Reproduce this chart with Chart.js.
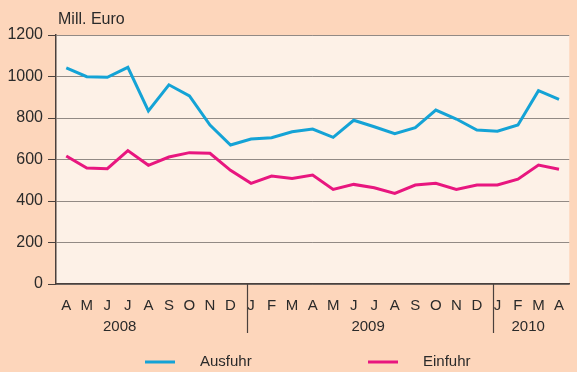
<!DOCTYPE html>
<html>
<head>
<meta charset="utf-8">
<script src="https://cdn.jsdelivr.net/npm/chart.js@4"></script>
<style>
  html, body { margin: 0; padding: 0; background: #fdd6bb; }
  canvas { display: block; }
</style>
</head>
<body>
<canvas id="c" width="577" height="372"></canvas>
<script>
'use strict';

/* ---- data ---------------------------------------------------------------- */
const months   = ['A','M','J','J','A','S','O','N','D',
                  'J','F','M','A','M','J','J','A','S','O','N','D',
                  'J','F','M','A'];
const ausfuhr  = [1042, 999, 996, 1044, 834, 960, 906, 766, 670,
                  699, 705, 734, 747, 707, 789, 758, 724, 753, 838, 795, 742,
                  736, 766, 932, 890];
const einfuhr  = [617, 559, 556, 643, 572, 612, 633, 630, 548,
                  485, 520, 509, 525, 456, 480, 464, 437, 477, 485, 456, 477,
                  477, 505, 573, 553];
const years    = ['2008', '2009', '2010'];
const yTicks   = [0, 200, 400, 600, 800, 1000, 1200];

/* ---- look ---------------------------------------------------------------- */
const BG     = '#fdd6bb';
const PLOT   = '#fdf1e7';
const INK    = '#2a2a2a';
const AXIS   = '#4a403c';
const GRID   = '#928a85';
const C_AUS  = '#14a3d6';
const C_EIN  = '#e8167f';
const FONT   = 'Arial, "Liberation Sans", Helvetica, sans-serif';

// where the year blocks sit on the category axis (index units)
const yearAt    = [2.6, 14.7, 22.5];
const yearSplit = [8.78, 20.8];

const chrome = {
  id: 'chrome',
  beforeDraw(chart) {
    const { ctx, chartArea: a } = chart;
    ctx.save();
    ctx.fillStyle = BG;
    ctx.fillRect(0, 0, chart.width, chart.height);
    ctx.fillStyle = PLOT;
    ctx.fillRect(a.left, a.top, a.right - a.left, a.bottom - a.top);
    ctx.restore();
  },
  afterDraw(chart) {
    const { ctx, chartArea: a } = chart;
    const x = chart.scales.x;
    ctx.save();
    // unit label
    ctx.fillStyle = INK;
    ctx.font = '16px ' + FONT;
    ctx.textBaseline = 'middle';
    ctx.textAlign = 'left';
    ctx.fillText('Mill. Euro', 58, 20);

    // year separators
    ctx.strokeStyle = AXIS;
    ctx.lineWidth = 1.2;
    for (const s of yearSplit) {
      const px = Math.round(x.getPixelForValue(s)) + 0.5;
      ctx.beginPath();
      ctx.moveTo(px, a.bottom);
      ctx.lineTo(px, 333);
      ctx.stroke();
    }
    // year labels
    ctx.font = '15px ' + FONT;
    ctx.textAlign = 'center';
    years.forEach((y, i) => ctx.fillText(y, x.getPixelForValue(yearAt[i]), 327));

    // legend
    const items = chart.data.datasets;
    const lx = [145, 368];
    items.forEach((ds, i) => {
      ctx.strokeStyle = ds.borderColor;
      ctx.lineWidth = 3;
      ctx.beginPath();
      ctx.moveTo(lx[i], 362);
      ctx.lineTo(lx[i] + 30, 362);
      ctx.stroke();
      ctx.fillStyle = INK;
      ctx.textAlign = 'left';
      ctx.fillText(ds.label, lx[i] + 55, 362);
    });
    ctx.restore();
  }
};

new Chart(document.getElementById('c'), {
  type: 'line',
  data: {
    labels: months,
    datasets: [
      { label: 'Ausfuhr', data: ausfuhr, borderColor: C_AUS, borderWidth: 3,
        pointRadius: 0, tension: 0, fill: false },
      { label: 'Einfuhr', data: einfuhr, borderColor: C_EIN, borderWidth: 3,
        pointRadius: 0, tension: 0, fill: false },
    ]
  },
  options: {
    responsive: false,
    animation: false,
    layout: { padding: { top: 35, left: 0, right: 0, bottom: 0 } },
    plugins: { legend: { display: false }, tooltip: { enabled: false } },
    scales: {
      x: {
        type: 'category',
        offset: true,
        grid: { display: false, drawTicks: false },
        border: { display: true, color: AXIS, width: 1.5 },
        ticks: { color: INK, font: { family: FONT, size: 15 }, padding: 13,
                 autoSkip: false, maxRotation: 0 },
        afterFit(s) { s.height = 88; }
      },
      y: {
        min: 0, max: 1200,
        afterBuildTicks(s) { s.ticks = yTicks.map(v => ({ value: v })); },
        grid: { color: GRID, lineWidth: 1, tickLength: 8, tickColor: AXIS },
        border: { display: true, color: AXIS, width: 1.5 },
        ticks: { color: INK, font: { family: FONT, size: 16 }, padding: 5,
                 callback: (v) => String(v) },
        afterFit(s) { s.width = 56; }
      }
    }
  },
  plugins: [chrome]
});
</script>
</body>
</html>
